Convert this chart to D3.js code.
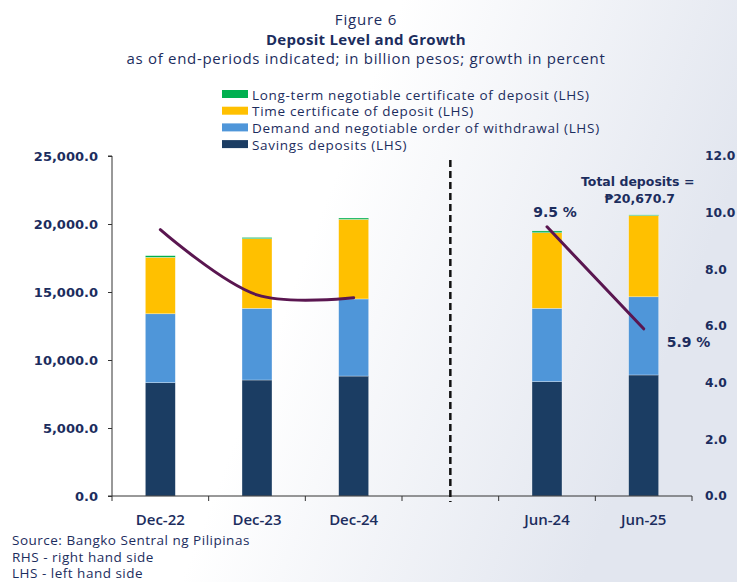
<!DOCTYPE html>
<html>
<head>
<meta charset="utf-8">
<script src="https://d3js.org/d3.v7.min.js"></script>
<style>
  body { margin: 0; font-family: "Open Sans", Arial, sans-serif; }
  text { fill: #1c2d5e; }
  .num { font-family: "DejaVu Sans", sans-serif; font-weight: bold; }
</style>
</head>
<body>
<div id="viz"></div>
<script>
// data (billion pesos, growth in percent)
const periods = ["Dec-22", "Dec-23", "Dec-24", "", "Jun-24", "Jun-25"];
const savings = [8330, 8530, 8820, null, 8410, 8900];
const demand = [5070, 5270, 5670, null, 5390, 5750];
const timeCert = [4150, 5120, 5850, null, 5560, 5960];
const longTerm = [120, 90, 100, null, 130, 61];
const growth = [9.4, 7.1, 7.0, null, 9.5, 5.9];
const leftTicks = [0, 5000, 10000, 15000, 20000, 25000];
const rightTicks = [0, 2, 4, 6, 8, 10, 12];

const seriesNames = ["Long-term negotiable certificate of deposit (LHS)",
  "Time certificate of deposit (LHS)",
  "Demand and negotiable order of withdrawal (LHS)",
  "Savings deposits (LHS)"];
const colors = { savings: "#1b3d63", demand: "#4f96d9", timeCert: "#ffc000", longTerm: "#00b050" };

const W = 737, H = 582;
const margin = { top: 156, right: 45, bottom: 86, left: 112 };

const svg = d3.select("#viz").append("svg")
  .attr("width", W).attr("height", H);

// background
const grad = svg.append("defs").append("linearGradient").attr("id", "bg")
  .attr("x1", "0").attr("x2", "1").attr("y1", "0").attr("y2", "0.3");
grad.append("stop").attr("offset", "0.5").attr("stop-color", "#ffffff");
grad.append("stop").attr("offset", "1").attr("stop-color", "#e2e6ef");
svg.append("rect").attr("width", W).attr("height", H).attr("fill", "url(#bg)");

// titles
svg.append("text").attr("x", 366).attr("y", 25).attr("text-anchor", "middle")
  .style("font-size", "15px").style("letter-spacing", "0.8px").text("Figure 6");
svg.append("text").attr("x", 366).attr("y", 45).attr("text-anchor", "middle")
  .style("font-size", "15px").style("font-weight", "bold").style("letter-spacing", "0.3px")
  .text("Deposit Level and Growth");
svg.append("text").attr("x", 366).attr("y", 64).attr("text-anchor", "middle")
  .style("font-size", "15px").style("letter-spacing", "0.7px")
  .text("as of end-periods indicated; in billion pesos; growth in percent");

// legend
const legColors = [colors.longTerm, colors.timeCert, colors.demand, colors.savings];
const leg = svg.append("g").selectAll("g").data(seriesNames).enter().append("g")
  .attr("transform", (d, i) => `translate(222,${95 + i * 16.7})`);
leg.append("rect").attr("y", -5).attr("width", 26).attr("height", 8)
  .attr("fill", (d, i) => legColors[i]);
leg.append("text").attr("x", 30).attr("y", 4.5).style("font-size", "13.5px")
  .style("letter-spacing", "0.7px").text(d => d);

const width = W - margin.left - margin.right,
  height = H - margin.top - margin.bottom;
const g = svg.append("g").attr("transform", `translate(${margin.left},${margin.top})`);

const x = d3.scaleBand().domain(d3.range(periods.length)).range([0, width]).paddingInner(0).paddingOuter(0);
const y = d3.scaleLinear().domain([0, 25000]).range([height, 0]);
const y2 = d3.scaleLinear().domain([0, 12]).range([height, 0]);
const barW = x.bandwidth() * 0.31;

// stacked bars
const rows = periods.map((p, i) => ({ i, savings: savings[i], demand: demand[i], timeCert: timeCert[i], longTerm: longTerm[i] }))
  .filter(d => d.savings != null);
const stack = d3.stack().keys(["savings", "demand", "timeCert", "longTerm"])(rows);
g.selectAll(".layer").data(stack).enter().append("g")
  .attr("fill", d => colors[d.key])
  .selectAll("rect").data(d => d).enter().append("rect")
  .attr("x", d => x(d.data.i) + x.bandwidth() / 2 - barW / 2)
  .attr("width", barW)
  .attr("y", d => y(d[1]))
  .attr("height", d => y(d[0]) - y(d[1]))
  .attr("stroke", "#ffffff").attr("stroke-opacity", 0.5).attr("stroke-width", 0.6);

// axes
const axL = g.append("g").call(d3.axisLeft(y).tickValues(leftTicks).tickSize(4).tickFormat(d3.format(",.1f")));
axL.selectAll("text").attr("x", -14).attr("class", "num").style("font-size", "13px").style("fill", "#1c2d5e");
axL.selectAll("line, path").attr("stroke", "#333");
axL.select(".domain").attr("d", `M-4,0H0V${height}H-4`);

const axR = g.append("g").attr("transform", `translate(${width},0)`)
  .call(d3.axisRight(y2).tickValues(rightTicks).tickSize(0).tickFormat(d3.format(".1f")));
axR.select(".domain").remove();
axR.selectAll("text").attr("x", 13).attr("class", "num").style("font-size", "12.3px").style("fill", "#1c2d5e");

const axB = g.append("g").attr("transform", `translate(0,${height})`);
axB.append("line").attr("x1", 0).attr("x2", width).attr("stroke", "#333");
axB.selectAll(".tk").data(d3.range(periods.length + 1)).enter().append("line")
  .attr("x1", d => d * x.step()).attr("x2", d => d * x.step())
  .attr("y1", 0).attr("y2", 5).attr("stroke", "#333");
axB.selectAll(".lbl").data(periods).enter().append("text")
  .attr("x", (d, i) => x(i) + x.bandwidth() / 2).attr("y", 29)
  .attr("text-anchor", "middle").style("font-size", "15px").style("font-weight", "600")
  .text(d => d);

// dashed divider
g.append("line")
  .attr("x1", x(3) + x.bandwidth() / 2).attr("x2", x(3) + x.bandwidth() / 2)
  .attr("y1", 4).attr("y2", height + 6)
  .attr("stroke", "#111").attr("stroke-width", 2.5).attr("stroke-dasharray", "7,4");

// growth lines
const line = d3.line().x(d => x(d.i) + x.bandwidth() / 2).y(d => y2(d.v));
const gDec = [0, 1, 2].map(i => ({ i, v: growth[i] }));
const gJun = [4, 5].map(i => ({ i, v: growth[i] }));
g.append("path").attr("d", line.curve(d3.curveCatmullRom.alpha(0.5))(gDec))
  .attr("fill", "none").attr("stroke", "#5a1650").attr("stroke-width", 3).attr("stroke-linecap", "round");
g.append("path").attr("d", line.curve(d3.curveLinear)(gJun))
  .attr("fill", "none").attr("stroke", "#5a1650").attr("stroke-width", 3).attr("stroke-linecap", "round");

// annotations
const fmtPct = d => d3.format(".1f")(d) + " %";
g.append("text").attr("class", "num").attr("x", x(4) + x.bandwidth() / 2 + 8).attr("y", y2(growth[4]) - 10)
  .attr("text-anchor", "middle").style("font-size", "14px")
  .text(fmtPct(growth[4]));
g.append("text").attr("class", "num").attr("x", x(5) + x.bandwidth() / 2 + 23).attr("y", y2(growth[5]) + 18)
  .style("font-size", "14px").text(fmtPct(growth[5]));
g.append("text").attr("class", "num").attr("x", x(5) + x.bandwidth() / 2 - 6).attr("y", y(25000) + 30)
  .attr("text-anchor", "middle").style("font-size", "12.5px")
  .text("Total deposits =");
g.append("text").attr("class", "num").attr("x", x(5) + x.bandwidth() / 2 - 4).attr("y", y(25000) + 47)
  .attr("text-anchor", "middle").style("font-size", "12.5px")
  .text("₱20,670.7");

// footnotes
const notes = ["Source:  Bangko Sentral ng Pilipinas", "RHS  - right hand side", "LHS  - left hand side"];
svg.selectAll(".note").data(notes).enter().append("text")
  .attr("x", 12).attr("y", (d, i) => 545 + i * 16.5)
  .style("font-size", "13.5px").style("letter-spacing", "0.5px").text(d => d);
</script>
</body>
</html>
